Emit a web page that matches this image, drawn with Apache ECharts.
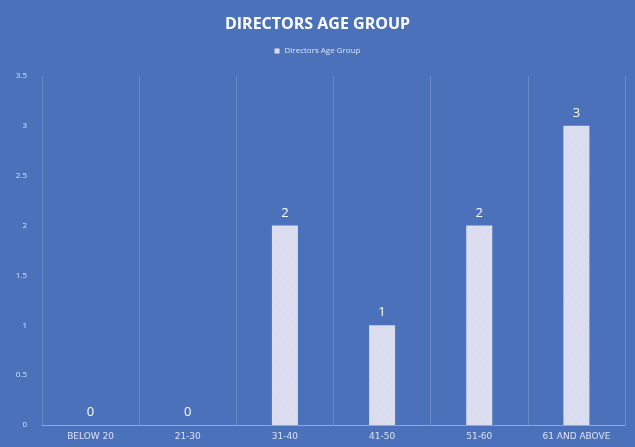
<!DOCTYPE html>
<html>
<head>
<meta charset="utf-8">
<script src="https://cdn.jsdelivr.net/npm/echarts@6/dist/echarts.min.js"></script>
<style>
  html, body { margin: 0; padding: 0; background: #4a71b9; }
  #chart { width: 635px; height: 447px; }
</style>
</head>
<body>
<div id="chart"></div>
<script>
// Age bands and the number of directors in each
const ageGroups = ['BELOW 20', '21-30', '31-40', '41-50', '51-60', '61 AND ABOVE'];
const directorCounts = [0, 0, 2, 1, 2, 3];
const yTicks = { min: 0, max: 3.5, interval: 0.5 };

const chart = echarts.init(document.getElementById('chart'));
chart.setOption({
  backgroundColor: '#4a71b9',
  title: {
    text: 'DIRECTORS AGE GROUP',
    left: 'center',
    top: 11,
    textStyle: {
      color: '#ffffff',
      fontSize: 16,
      fontWeight: 'bold',
      fontFamily: 'Open Sans'
    }
  },
  legend: {
    top: 42,
    left: 'center',
    itemWidth: 5,
    itemHeight: 5,
    icon: 'rect',
    textStyle: { color: '#dfe6f5', fontSize: 8, fontFamily: 'Open Sans' },
    data: ['Directors Age Group']
  },
  grid: { left: 42, right: 10, top: 76, bottom: 22 },
  xAxis: {
    type: 'category',
    data: ageGroups,
    axisTick: { show: false },
    axisLine: { lineStyle: { color: '#8fa8d8', width: 1 } },
    axisLabel: {
      color: '#dbe3f4',
      fontSize: 9,
      fontFamily: 'DejaVu Sans',
      margin: 7
    },
    splitLine: { show: true, lineStyle: { color: '#6a8ac6', width: 1 } }
  },
  yAxis: {
    type: 'value',
    min: yTicks.min,
    max: yTicks.max,
    interval: yTicks.interval,
    axisLine: { show: false },
    axisTick: { show: false },
    splitLine: { show: false },
    axisLabel: {
      color: '#dbe3f4',
      fontSize: 8,
      fontFamily: 'Open Sans',
      margin: 15
    }
  },
  series: [{
    name: 'Directors Age Group',
    type: 'bar',
    data: directorCounts,
    barWidth: 26,
    itemStyle: {
      color: '#dcdef0',
      decal: {
        symbol: 'rect',
        symbolSize: 0.5,
        dashArrayX: [1, 0],
        dashArrayY: [2, 3],
        rotation: Math.PI / 4,
        color: 'rgba(190,195,225,0.35)'
      }
    },
    label: {
      show: true,
      position: 'top',
      distance: 6,
      color: '#ffffff',
      fontSize: 13,
      fontFamily: 'Open Sans'
    }
  }]
});
</script>
</body>
</html>
